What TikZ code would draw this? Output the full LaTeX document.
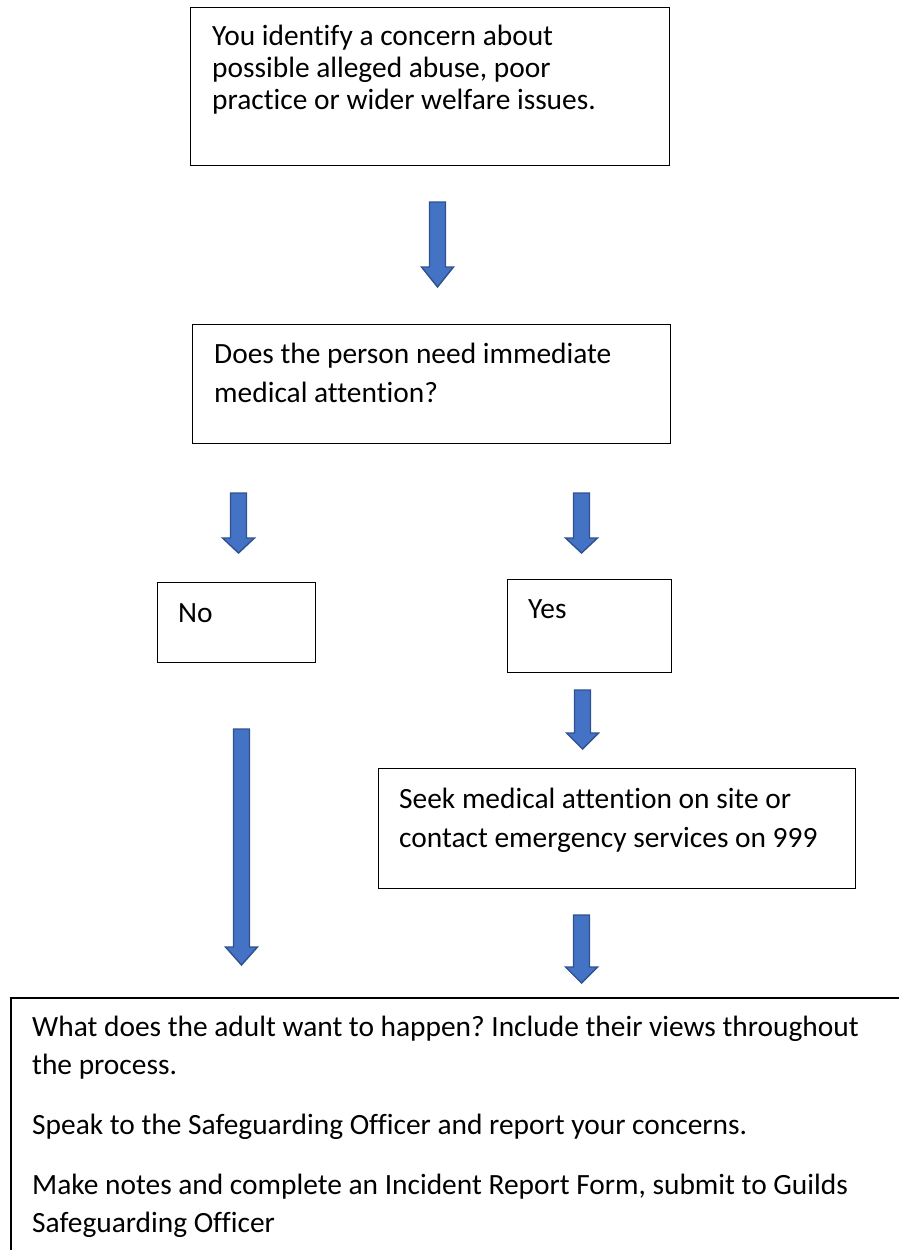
\documentclass[tikz,border=0pt]{standalone}
\usepackage{fontspec}
\setmainfont{Carlito}[Ligatures=NoCommon]
\frenchspacing
\definecolor{arrowfill}{HTML}{4472C4}
\definecolor{arrowline}{HTML}{2F528F}
\tikzset{
  box/.style={draw=black, line width=1.2pt, fill=white, inner sep=0pt, anchor=north west},
  txt/.style={anchor=north west, inner sep=0pt, align=left},
  word/.style={anchor=base west, inner sep=0pt},
  blockarrow/.style={fill=arrowfill, draw=arrowline, line width=1.4pt, line join=miter}
}
\newcommand\fl{\rule{0pt}{25pt}}
% x centre, top, head start, tip
\newcommand\barrow[4]{%
  \draw[blockarrow] ({#1-8},{#2}) -- ({#1+8},{#2}) -- ({#1+8},{#3}) -- ({#1+16},{#3})
    -- ({#1},{#4}) -- ({#1-16},{#3}) -- ({#1-8},{#3}) -- cycle;}
\begin{document}
\begin{tikzpicture}[x=1pt, y=-1pt]
\useasboundingbox (0,0) rectangle (899,1250);
\clip (0,0) rectangle (899,1250);

% boxes
\node[box, minimum width=479pt, minimum height=158pt] (b1) at (190,7) {};
\node[box, minimum width=478pt, minimum height=119pt] (b2) at (192,324) {};
\node[box, minimum width=158pt, minimum height=80pt] (no) at (157,582) {};
\node[box, minimum width=164pt, minimum height=93pt] (yes) at (507,579) {};
\node[box, minimum width=477pt, minimum height=120pt] (seek) at (378,768) {};
\node[box, line width=1.8pt, minimum width=920pt, minimum height=300pt] (final) at (10,997) {};

% texts
\node[txt, font=\fontsize{29.4}{32}\selectfont] (t1) at (212,20)
  {\fl You identify a concern about\\possible alleged abuse, poor\\practice or wider welfare issues.};
\node[txt, font=\fontsize{29.4}{39}\selectfont] (t2) at (214,338)
  {\fl Does the person need immediate\\medical attention?};
\node[word, font=\fontsize{29.4}{39}\selectfont] (tno) at (178,622) {No};
\node[word, font=\fontsize{29.4}{39}\selectfont] (tyes) at (528,618) {Yes};
\node[txt, font=\fontsize{29.4}{39}\selectfont] (tseek) at (399,783)
  {\fl Seek medical attention on site or\\contact emergency services on 999};
\node[txt, font=\fontsize{29.4}{38}\selectfont] (tfinal) at (32,1011)
  {\fl What does the adult want to happen? Include their views throughout\\
   the process.\\[22pt]
   Speak to the Safeguarding Officer and report your concerns.\\[22pt]
   Make notes and complete an Incident Report Form, submit to Guilds\\
   Safeguarding Officer};

% block arrows
\barrow{437.5}{202}{267}{287}
\barrow{238.5}{493}{538}{553}
\barrow{581.5}{493}{538}{553}
\barrow{582.5}{690}{733}{749}
\barrow{241.5}{729}{947}{965}
\barrow{581.5}{915}{967}{983}
\end{tikzpicture}
\end{document}
